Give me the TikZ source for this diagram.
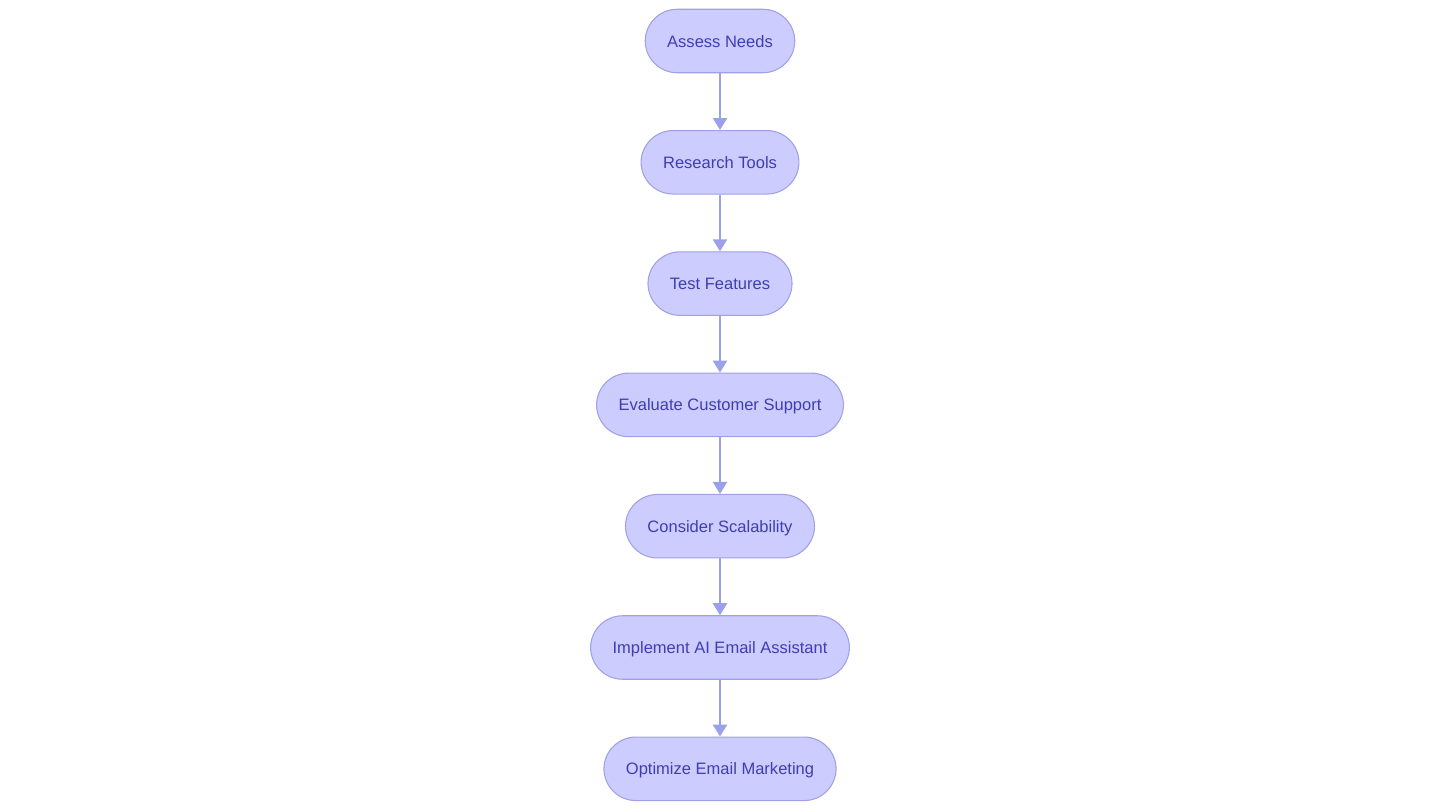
\documentclass[tikz,border=0pt]{standalone}
\usepackage{fontspec}
\setmainfont{Liberation Sans}
\usetikzlibrary{positioning,arrows.meta}
\definecolor{stepfill}{RGB}{204,204,255}
\definecolor{stepline}{RGB}{160,160,230}
\definecolor{steptext}{RGB}{62,62,178}
\definecolor{flowline}{RGB}{155,160,235}
\tikzset{stepbox/.style={draw=stepline, fill=stepfill, text=steptext, line width=0.6pt,
        rounded corners=0.64cm, minimum height=1.27cm, inner xsep=0.44cm,
        text height=1.6ex, text depth=0.3ex,
        font=\fontsize{9.4pt}{11pt}\selectfont}}
\tikzset{flow/.style={draw=flowline, line width=1.4pt, -{Triangle[length=0.24cm, width=0.28cm]}}}

\begin{document}
\begin{tikzpicture}[node distance=1.135cm]
    \useasboundingbox (0cm, 0cm) rectangle (28.8cm, -16.2cm);

    \node (assess) at (14.4cm, -0.82cm) [stepbox] {Assess Needs};
    \node (research) [stepbox, below=of assess] {Research Tools};
    \node (test) [stepbox, below=of research] {Test Features};
    \node (evaluate) [stepbox, below=of test] {Evaluate Customer Support};
    \node (consider) [stepbox, below=of evaluate] {Consider Scalability};
    \node (implement) [stepbox, below=of consider] {Implement AI Email Assistant};
    \node (optimize) [stepbox, below=of implement] {Optimize Email Marketing};

    \draw[flow] (assess) -- (research);
    \draw[flow] (research) -- (test);
    \draw[flow] (test) -- (evaluate);
    \draw[flow] (evaluate) -- (consider);
    \draw[flow] (consider) -- (implement);
    \draw[flow] (implement) -- (optimize);
\end{tikzpicture}
\end{document}
